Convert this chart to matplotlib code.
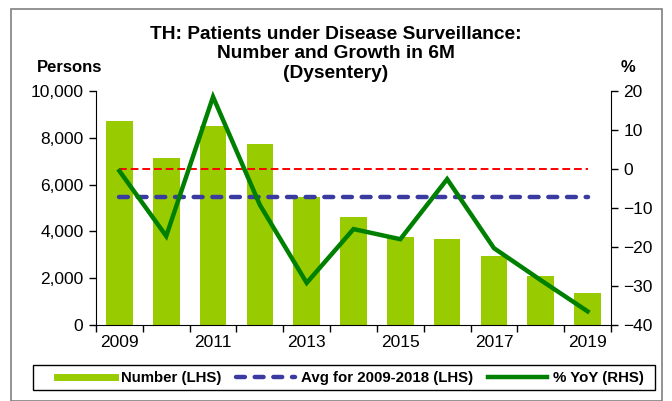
import matplotlib
matplotlib.use("Agg")
import matplotlib.pyplot as plt
import numpy as np
from matplotlib.lines import Line2D
from matplotlib.patches import Patch, Rectangle

plt.rcParams['font.family'] = ['Liberation Sans', 'DejaVu Sans']

years = [2009, 2010, 2011, 2012, 2013, 2014, 2015, 2016, 2017, 2018, 2019]
number = [8700, 7150, 8500, 7730, 5450, 4600, 3760, 3680, 2950, 2100, 1370]
avg_2009_2018 = 5462
yoy = [-0.5, -17.2, 18.5, -9.2, -29.2, -15.4, -18.0, -2.6, -20.3, -28.5, -36.5]
xtick_labels = ['2009', '2011', '2013', '2015', '2017', '2019']

fig = plt.figure(figsize=(6.72, 4.01), dpi=100)
ax = fig.add_axes([96/672, 1-325/401, (611-96)/672, (325-91)/401])
ax2 = ax.twinx()

x = np.arange(len(years))
ax.bar(x, number, width=0.57, color='#99CC00', zorder=2)
ax.plot([x[0], x[-1]], [avg_2009_2018]*2, color='#3A3AA0', lw=3.2,
        dashes=(2, 2.2), dash_capstyle='round', zorder=3)
ax2.plot([x[0], x[-1]], [0, 0], color='#FF0000', lw=1.4, dashes=(4, 2), zorder=3)
ax2.plot(x, yoy, color='#008000', lw=3.2, zorder=4, solid_joinstyle='miter')

ax.set_xlim(-0.5, len(years)-0.5)
ax.set_ylim(0, 10000)
ax2.set_ylim(-40, 20)
ax.set_yticks(np.arange(0, 10001, 2000))
ax.set_yticklabels([f"{v:,}" for v in range(0, 10001, 2000)])
ax2.set_yticks(np.arange(-40, 21, 10))

ax.set_xticks(x[::2])
ax.set_xticklabels(xtick_labels)
ax.set_xticks(np.arange(-0.5, len(years), 1), minor=True)
ax.tick_params(axis='x', which='major', length=0, pad=7, labelsize=12.5)
ax.tick_params(axis='x', which='minor', length=5, width=1, direction='out')
ax.tick_params(axis='y', length=5, width=1, labelsize=12.5, pad=4)
ax2.tick_params(axis='y', length=5, width=1, labelsize=12.5, pad=4)

for a in (ax, ax2):
    a.spines['top'].set_visible(False)
ax.spines['right'].set_visible(False)
ax2.spines['left'].set_visible(False)
ax2.spines['bottom'].set_visible(False)

fig.text(336/672, 1-54/401, "TH: Patients under Disease Surveillance:\nNumber and Growth in 6M\n(Dysentery)",
         ha='center', va='center', fontsize=13.8, fontweight='bold', linespacing=1.2)
fig.text(70/672, 1-67/401, "Persons", ha='center', va='center',
         fontsize=12, fontweight='bold')
fig.text(628/672, 1-67/401, "%", ha='center', va='center',
         fontsize=12, fontweight='bold')

# outer border
fig.patches.append(Rectangle((11/672, 0.0), (662-11)/672, 1-9/401, transform=fig.transFigure,
                             fill=False, edgecolor='#808080', lw=1.2))
# legend frame
fig.patches.append(Rectangle((33/672, 1-390/401), (655-33)/672, 25/401, transform=fig.transFigure,
                             fill=False, edgecolor='black', lw=1.0))

handles = [Line2D([0], [0], color='#99CC00', lw=5),
           Line2D([0], [0], color='#3A3AA0', lw=3.2, dashes=(2, 2.2), dash_capstyle='round'),
           Line2D([0], [0], color='#008000', lw=3.2)]
labels = ['Number (LHS)', 'Avg for 2009-2018 (LHS)', '% YoY (RHS)']
leg = fig.legend(handles, labels, loc='center', bbox_to_anchor=(350/672, 1-378/401),
                 ncol=3, frameon=False,
                 prop={'weight': 'bold', 'size': 10.8}, handlelength=3.9,
                 columnspacing=1.0, handletextpad=0.4, borderpad=0.3)

fig.savefig("out.png", dpi=100)
